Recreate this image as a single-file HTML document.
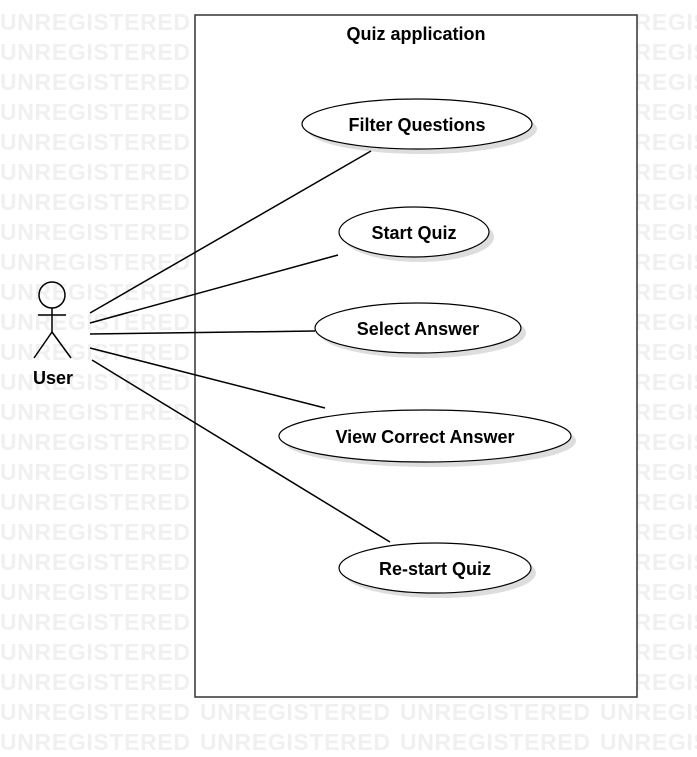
<!DOCTYPE html>
<html><head><style>
body{margin:0;background:#fff;}
svg{display:block;}
.w{font-family:"Liberation Sans",sans-serif;font-size:23px;fill:#f0f0f0;font-weight:bold;}
.t{font-family:"Liberation Sans",sans-serif;font-size:18px;font-weight:bold;fill:#000;text-anchor:middle;}
</style></head><body>
<svg width="697" height="757" xmlns="http://www.w3.org/2000/svg">
<g class="w" transform="translate(0,2)">
<text x="0" y="28" textLength="190">UNREGISTERED</text><text x="600" y="28" textLength="190">UNREGISTERED</text>
<text x="0" y="58" textLength="190">UNREGISTERED</text><text x="600" y="58" textLength="190">UNREGISTERED</text>
<text x="0" y="88" textLength="190">UNREGISTERED</text><text x="600" y="88" textLength="190">UNREGISTERED</text>
<text x="0" y="118" textLength="190">UNREGISTERED</text><text x="600" y="118" textLength="190">UNREGISTERED</text>
<text x="0" y="148" textLength="190">UNREGISTERED</text><text x="600" y="148" textLength="190">UNREGISTERED</text>
<text x="0" y="178" textLength="190">UNREGISTERED</text><text x="600" y="178" textLength="190">UNREGISTERED</text>
<text x="0" y="208" textLength="190">UNREGISTERED</text><text x="600" y="208" textLength="190">UNREGISTERED</text>
<text x="0" y="238" textLength="190">UNREGISTERED</text><text x="600" y="238" textLength="190">UNREGISTERED</text>
<text x="0" y="268" textLength="190">UNREGISTERED</text><text x="600" y="268" textLength="190">UNREGISTERED</text>
<text x="0" y="298" textLength="190">UNREGISTERED</text><text x="600" y="298" textLength="190">UNREGISTERED</text>
<text x="0" y="328" textLength="190">UNREGISTERED</text><text x="600" y="328" textLength="190">UNREGISTERED</text>
<text x="0" y="358" textLength="190">UNREGISTERED</text><text x="600" y="358" textLength="190">UNREGISTERED</text>
<text x="0" y="388" textLength="190">UNREGISTERED</text><text x="600" y="388" textLength="190">UNREGISTERED</text>
<text x="0" y="418" textLength="190">UNREGISTERED</text><text x="600" y="418" textLength="190">UNREGISTERED</text>
<text x="0" y="448" textLength="190">UNREGISTERED</text><text x="600" y="448" textLength="190">UNREGISTERED</text>
<text x="0" y="478" textLength="190">UNREGISTERED</text><text x="600" y="478" textLength="190">UNREGISTERED</text>
<text x="0" y="508" textLength="190">UNREGISTERED</text><text x="600" y="508" textLength="190">UNREGISTERED</text>
<text x="0" y="538" textLength="190">UNREGISTERED</text><text x="600" y="538" textLength="190">UNREGISTERED</text>
<text x="0" y="568" textLength="190">UNREGISTERED</text><text x="600" y="568" textLength="190">UNREGISTERED</text>
<text x="0" y="598" textLength="190">UNREGISTERED</text><text x="600" y="598" textLength="190">UNREGISTERED</text>
<text x="0" y="628" textLength="190">UNREGISTERED</text><text x="600" y="628" textLength="190">UNREGISTERED</text>
<text x="0" y="658" textLength="190">UNREGISTERED</text><text x="600" y="658" textLength="190">UNREGISTERED</text>
<text x="0" y="688" textLength="190">UNREGISTERED</text><text x="600" y="688" textLength="190">UNREGISTERED</text>
<text x="0" y="718" textLength="190">UNREGISTERED</text><text x="200" y="718" textLength="190">UNREGISTERED</text><text x="400" y="718" textLength="190">UNREGISTERED</text><text x="600" y="718" textLength="190">UNREGISTERED</text>
<text x="0" y="748" textLength="190">UNREGISTERED</text><text x="200" y="748" textLength="190">UNREGISTERED</text><text x="400" y="748" textLength="190">UNREGISTERED</text><text x="600" y="748" textLength="190">UNREGISTERED</text>
</g>
<rect x="195" y="15" width="442" height="682" fill="#fff" stroke="#333" stroke-width="1.5"/>
<text class="t" x="416" y="40">Quiz application</text>
<g fill="#ddd">
<ellipse cx="422" cy="129" rx="115" ry="25"/>
<ellipse cx="419" cy="237" rx="75" ry="25"/>
<ellipse cx="423" cy="333" rx="103" ry="25"/>
<ellipse cx="430" cy="441" rx="146" ry="26"/>
<ellipse cx="440" cy="573" rx="96" ry="25"/>
</g>
<g fill="#fff" stroke="#000" stroke-width="1.2">
<ellipse cx="417" cy="124" rx="115" ry="25"/>
<ellipse cx="414" cy="232" rx="75" ry="25"/>
<ellipse cx="418" cy="328" rx="103" ry="25"/>
<ellipse cx="425" cy="436" rx="146" ry="26"/>
<ellipse cx="435" cy="568" rx="96" ry="25"/>
</g>
<text class="t" x="417" y="131">Filter Questions</text>
<text class="t" x="414" y="239">Start Quiz</text>
<text class="t" x="418" y="335">Select Answer</text>
<text class="t" x="425" y="443">View Correct Answer</text>
<text class="t" x="435" y="575">Re-start Quiz</text>
<g stroke="#000" stroke-width="1.5" fill="none">
<line x1="90" y1="313" x2="371" y2="151"/>
<line x1="90" y1="323" x2="338" y2="255"/>
<line x1="90" y1="334" x2="315" y2="331"/>
<line x1="90" y1="348" x2="325" y2="408"/>
<line x1="92" y1="360" x2="390" y2="542"/>
<circle cx="52" cy="295" r="13"/>
<line x1="52" y1="308" x2="52" y2="332"/>
<line x1="38" y1="315" x2="66" y2="315"/>
<line x1="52" y1="332" x2="34" y2="358"/>
<line x1="52" y1="332" x2="71" y2="358"/>
</g>
<text class="t" x="53" y="384">User</text>
</svg>
</body></html>
